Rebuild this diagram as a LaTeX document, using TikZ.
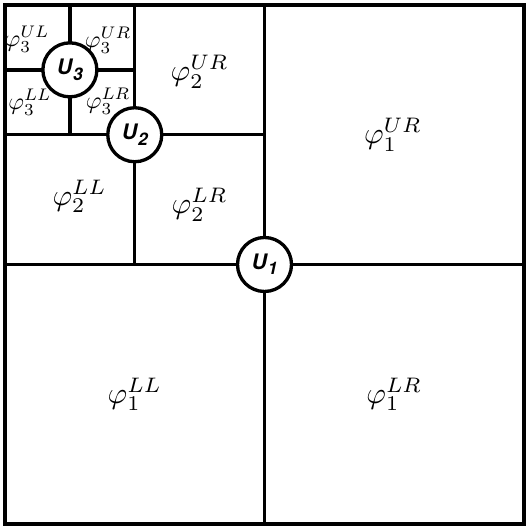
\documentclass[tikz,border=0pt]{standalone}
\usepackage{amsmath,amssymb}
\usepackage{fontspec}
\newfontfamily\herosfont{TeX Gyre Heros}
\usepackage{tikz}
\newcommand{\ulab}[1]{{\herosfont\bfseries\itshape U\kern0.04em\raisebox{-0.45ex}{\fontsize{5.2}{6}\selectfont #1}}}

\begin{document}
\begin{tikzpicture}[x=19.4625pt,y=19.4625pt,
  wall/.style={line width=1pt},
  knot/.style={circle,draw,fill=white,line width=1pt,minimum size=16.2pt,inner sep=0pt,font=\fontsize{6.4}{7}\selectfont},
  lab/.style={inner sep=0pt,scale=0.9,transform shape},
  sublab/.style={inner sep=0pt,scale=0.72,transform shape}]
\useasboundingbox (-0.077,-0.077) rectangle (8.077,8.077);
%\pgfsetlinewidth{1pt}
\draw[wall] (0,0) rectangle (8,8);
\draw[wall] (4,0) -- (4,8);
\draw[wall] (0,4) -- (8,4);
\draw[wall] (2,4) -- (2,8);
\draw[wall] (0,6) -- (4,6);
\draw[wall] (1,6) -- (1,8);
\draw[wall] (0,7) -- (2,7);
\node[knot] (u1) at (4,4) {\ulab{1}};
\node[knot] (u2) at (2,6) {\ulab{2}};
\node[knot] (u3) at (1,7) {\ulab{3}};
\node[lab] (p1ur) at (5.98,6.0) {$\varphi_1^{UR}$};
\node[lab] (p1ll) at (2,2) {$\varphi_1^{LL}$};
\node[lab] (p1lr) at (6,2) {$\varphi_1^{LR}$};
\node[lab] (p2ur) at (3,6.97) {$\varphi_2^{UR}$};
\node[lab] (p2ll) at (1.15,5.05) {$\varphi_2^{LL}$};
\node[lab] (p2lr) at (3,4.92) {$\varphi_2^{LR}$};
\node[sublab] (p3ul) at (0.34,7.47) {$\varphi_3^{UL}$};
\node[sublab] (p3ur) at (1.59,7.46) {$\varphi_3^{UR}$};
\node[sublab] (p3ll) at (0.385,6.5) {$\varphi_3^{LL}$};
\node[sublab] (p3lr) at (1.59,6.52) {$\varphi_3^{LR}$};
\end{tikzpicture}
\end{document}
